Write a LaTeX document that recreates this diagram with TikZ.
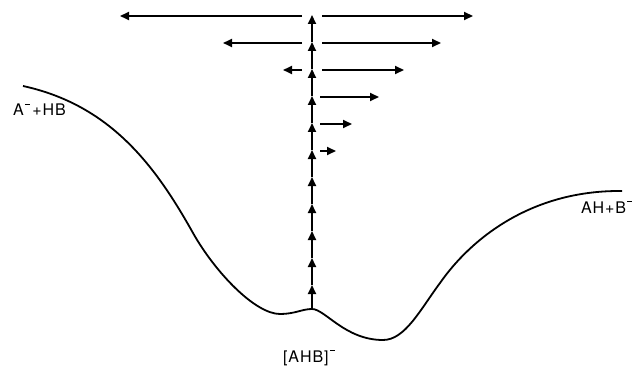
\documentclass[tikz,border=0pt]{standalone}
\usepackage{fontspec}
\setmainfont{TeX Gyre Heros}[LetterSpace=6]
\usetikzlibrary{arrows.meta}
\newcommand{\chg}{\hspace{0.08em}\rule[0.66em]{0.3em}{0.1em}}
\begin{document}
\begin{tikzpicture}[x=1pt,y=-1pt,line width=2pt,
  tip/.style={-{Triangle[length=9pt,width=8pt]}},
  lbl/.style={font=\fontsize{16}{19}\selectfont,inner sep=0pt,anchor=base west}]
\useasboundingbox (0,0) rectangle (636,366);
\draw[line width=1.8pt] (23,86) .. controls (110,105) and (155,165) .. (193,233)
  .. controls (215,272) and (255,314) .. (280,314)
  .. controls (295,314) and (302,309) .. (312,309)
  .. controls (325,309) and (345,340) .. (383,340)
  .. controls (405,340) and (420,310) .. (440,283)
  .. controls (470,240) and (530,190) .. (622,191);
\coordinate (v0) at (312,309);
\foreach \k in {1,...,11}
  \coordinate (v\k) at (312,{312-27*\k});
\foreach \j [count=\k] in {0,...,10}
  \draw[tip] (v\j) -- (v\k);
\foreach \n/\y/\a/\b in {1/16/120/473,2/43/223/441,3/70/283/404}{
  \coordinate (ls\n) at (302,\y);
  \coordinate (le\n) at (\a,\y);
  \coordinate (rs\n) at (322,\y);
  \coordinate (re\n) at (\b,\y);
  \draw[tip] (ls\n) -- (le\n);
  \draw[tip] (rs\n) -- (re\n);
}
\foreach \n/\y/\b in {4/97/379,5/124/352,6/151/336}{
  \coordinate (rs\n) at (320,\y);
  \coordinate (re\n) at (\b,\y);
  \draw[tip] (rs\n) -- (re\n);
}
\node[lbl] (react) at (12,116) {A\chg\,+HB};
\node[lbl] (prod) at (580,213) {AH+B\chg};
\node[lbl] (cplx) at (282,362) {[AHB]\chg};
\end{tikzpicture}
\end{document}
